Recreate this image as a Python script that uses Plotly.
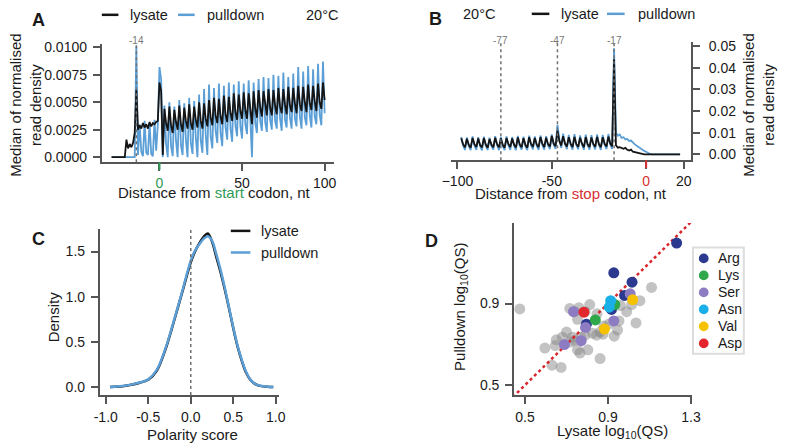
import plotly.graph_objects as go

W, H = 787, 448
FONT = "Liberation Sans, Arial, sans-serif"
BLACK = "#151515"
BLUE = "#5b9fd6"
GREEN = "#2f9a57"
RED = "#d62f35"
AXC = "#555555"

# ---- panel A: read density around the start codon (one value per nt, -29..100)
start_nt = list(range(-29, 101))
start_lysate = [
    0, 0, 0, 0, 0, 0, 0, 0, 0,
    .0016, .0008, .0012, .0009, .0013, .0022,
    .0061, .0025, .0029, .0026, .0031, .0027, .0030, .0026, .0032, .0028, .0031, .0030, .0032, .0033,
    .0068, .0060, .0002,
    .0044, .0031, .0024, .0046, .0029, .0022, .0043, .0032, .0025, .0047, .0030, .0023,
    .0045, .0033, .0026, .0048, .0031, .0025, .0046, .0034, .0027, .0050, .0033, .0026,
    .0049, .0035, .0028, .0052, .0036, .0029, .0054, .0038, .0031, .0053, .0037, .0030,
    .0056, .0039, .0032, .0055, .0040, .0033, .0058, .0041, .0034, .0057, .0042, .0035,
    .0059, .0043, .0035, .0058, .0042, .0030, .0060, .0044, .0036, .0061, .0045, .0037,
    .0060, .0046, .0038, .0062, .0045, .0038, .0061, .0047, .0039, .0063, .0046, .0040,
    .0062, .0048, .0039, .0064, .0047, .0041, .0063, .0049, .0040, .0065, .0048, .0042,
    .0064, .0050, .0041, .0066, .0049, .0043, .0065, .0051, .0042, .0067, .0050, .0044,
    .0068, .0052,
]
start_pulldown = [
    0, 0, 0, 0, 0, 0, 0, 0, 0, 0, 0, 0, 0, 0, 0,
    .0101, .0002, .0030, .0005, .0001, .0033, .0004, .0002, .0031, .0003, .0001, .0034, .0006, .0030,
    .0082, .0071, .0000,
    .0047, .0012, .0000, .0050, .0010, .0001, .0046, .0015, .0000, .0052, .0011, .0002,
    .0049, .0016, .0000, .0054, .0013, .0003, .0051, .0018, .0000, .0057, .0015, .0004,
    .0062, .0020, .0002, .0066, .0019, .0008, .0063, .0024, .0013, .0067, .0022, .0010,
    .0065, .0027, .0016, .0068, .0026, .0014, .0066, .0029, .0019, .0069, .0028, .0017,
    .0067, .0030, .0021, .0070, .0026, .0000, .0068, .0031, .0022, .0071, .0033, .0024,
    .0073, .0032, .0023, .0072, .0034, .0025, .0075, .0033, .0026, .0074, .0035, .0024,
    .0077, .0034, .0027, .0073, .0036, .0026, .0076, .0035, .0028, .0082, .0037, .0026,
    .0078, .0036, .0029, .0083, .0038, .0027, .0080, .0037, .0030, .0085, .0039, .0029,
    .0087, .0040,
]

# ---- panel B: read density around the stop codon (-98..18)
stop_nt = list(range(-98, 19))
stop_lysate = [
    .0074, .0046, .0033, .0072, .0044, .0031, .0076, .0047, .0034, .0073, .0043, .0032,
    .0075, .0046, .0030, .0071, .0045, .0033, .0077, .0047, .0032, .0074, .0044, .0031,
    .0076, .0048, .0034, .0073, .0045, .0032, .0078, .0046, .0033, .0075, .0044, .0031,
    .0079, .0048, .0035, .0076, .0046, .0033, .0080, .0049, .0034, .0077, .0047, .0036,
    .0085, .0050, .0038, .0110, .0062, .0040, .0084, .0050, .0036, .0079, .0048, .0034,
    .0081, .0047, .0035, .0077, .0049, .0033, .0080, .0046, .0034, .0078, .0048, .0035,
    .0081, .0047, .0033, .0079, .0049, .0036, .0082, .0050, .0037,
    .0440,
    .0042, .0031, .0033, .0028, .0026, .0030, .0021, .0018, .0022, .0012, .0010, .0006,
    .0003, .0001, .0000, .0000,
    0, 0, 0, 0, 0, 0, 0, 0, 0, 0, 0, 0, 0, 0, 0, 0, 0, 0, 0,
]
stop_pulldown = [
    .0080, .0040, .0020, .0078, .0038, .0019, .0083, .0041, .0021, .0079, .0037, .0018,
    .0082, .0040, .0020, .0077, .0039, .0022, .0084, .0042, .0019, .0081, .0038, .0020,
    .0083, .0041, .0021, .0080, .0039, .0019, .0085, .0040, .0022, .0082, .0038, .0020,
    .0086, .0042, .0023, .0083, .0040, .0021, .0087, .0043, .0022, .0084, .0041, .0024,
    .0092, .0045, .0025, .0136, .0070, .0030, .0096, .0047, .0024, .0090, .0044, .0022,
    .0093, .0043, .0023, .0088, .0045, .0021, .0091, .0042, .0022, .0089, .0044, .0023,
    .0092, .0043, .0021, .0090, .0045, .0024, .0094, .0046, .0025,
    .0490,
    .0100, .0086, .0092, .0076, .0079, .0069, .0071, .0062, .0064, .0053, .0046, .0040,
    .0033, .0028, .0022, .0016,
    .0012, .0006, .0002, 0, 0, 0, 0, 0, 0, 0, 0, 0, 0, 0, 0, 0, 0, 0, 0,
]
start_marks = [-14]
stop_marks = [-77, -47, -17]

# ---- panel C: polarity score density
polarity = [-0.95, -0.9, -0.8, -0.7, -0.6, -0.5, -0.4, -0.3, -0.2, -0.1, 0.0, 0.05, 0.1,
            0.15, 0.2, 0.25, 0.3, 0.35, 0.4, 0.45, 0.5, 0.55, 0.6, 0.65, 0.7, 0.75, 0.8, 0.9, 0.97]
dens_lysate = [0.0, 0.002, 0.010, 0.025, 0.048, 0.08, 0.18, 0.41, 0.72, 1.05, 1.38, 1.50, 1.59,
               1.66, 1.70, 1.61, 1.44, 1.27, 1.08, 0.87, 0.65, 0.45, 0.29, 0.16, 0.08, 0.038, 0.016, 0.003, 0.0]
dens_pulldown = [0.0, 0.003, 0.012, 0.027, 0.05, 0.085, 0.19, 0.42, 0.73, 1.06, 1.40, 1.51, 1.58,
                 1.64, 1.67, 1.62, 1.47, 1.30, 1.10, 0.88, 0.66, 0.46, 0.30, 0.17, 0.085, 0.04, 0.018, 0.004, 0.0]

# ---- panel D: log10(QS), lysate vs pulldown
other_x = [0.475, 0.716, 0.812, 0.753, 0.847, 0.825, 0.845, 0.862, 0.876, 0.946, 0.953, 1.035, 1.054,
           1.014, 1.110, 0.651, 0.596, 0.646, 0.729, 0.720, 0.740, 0.753, 0.765, 0.803, 0.630, 0.674,
           0.862, 0.700, 0.680, 0.770, 0.790, 0.905, 0.880, 0.960, 0.990, 0.760, 0.740, 0.790, 0.930]
other_y = [0.874, 0.876, 0.895, 0.823, 0.850, 0.755, 0.745, 0.760, 0.750, 0.770, 0.815, 0.805, 0.914,
           0.895, 0.979, 0.722, 0.682, 0.694, 0.735, 0.712, 0.720, 0.673, 0.657, 0.673, 0.598, 0.587,
           0.630, 0.760, 0.735, 0.735, 0.745, 0.800, 0.790, 0.890, 0.860, 0.880, 0.860, 0.860, 0.740]
amino = ["Arg", "Lys", "Ser", "Asn", "Val", "Asp"]
amino_colors = ["#2b3a8f", "#2ea84a", "#8e7cc3", "#1aafe6", "#f6c200", "#e3262b"]
amino_x = [
    [1.231, 0.928, 1.016, 0.980, 0.917, 0.796],
    [0.933, 0.839],
    [1.007, 0.734, 0.928, 0.792, 0.771, 0.690],
    [0.913, 0.906],
    [1.019, 0.883],
    [0.784],
]
amino_y = [
    [1.197, 1.051, 1.005, 0.940, 0.871, 0.799],
    [0.895, 0.820],
    [0.948, 0.860, 0.815, 0.783, 0.718, 0.699],
    [0.914, 0.882],
    [0.919, 0.775],
    [0.858],
]


def px(x):
    return x / W


def py(y):
    return 1 - y / H


fig = go.Figure()

# A
fig.add_trace(go.Scatter(x=start_nt, y=start_pulldown, mode="lines", line=dict(color=BLUE, width=1.8),
                         xaxis="x", yaxis="y", name="pulldown"))
fig.add_trace(go.Scatter(x=start_nt, y=start_lysate, mode="lines", line=dict(color=BLACK, width=1.8),
                         xaxis="x", yaxis="y", name="lysate"))
# B
fig.add_trace(go.Scatter(x=stop_nt, y=stop_pulldown, mode="lines", line=dict(color=BLUE, width=1.8),
                         xaxis="x2", yaxis="y2", name="pulldown"))
fig.add_trace(go.Scatter(x=stop_nt, y=stop_lysate, mode="lines", line=dict(color=BLACK, width=1.8),
                         xaxis="x2", yaxis="y2", name="lysate"))
# C
fig.add_trace(go.Scatter(x=polarity, y=dens_lysate, mode="lines", line=dict(color=BLACK, width=2.5, shape="spline"),
                         xaxis="x3", yaxis="y3", name="lysate"))
fig.add_trace(go.Scatter(x=polarity, y=dens_pulldown, mode="lines", line=dict(color=BLUE, width=2.5, shape="spline"),
                         xaxis="x3", yaxis="y3", name="pulldown"))
# D
fig.add_trace(go.Scatter(x=other_x, y=other_y, mode="markers",
                         marker=dict(color="rgba(135,135,135,0.5)", size=11, line=dict(width=0)),
                         xaxis="x4", yaxis="y4", name="other"))
fig.add_trace(go.Scatter(x=[0.40, 1.30], y=[0.40, 1.30], mode="lines",
                         line=dict(color="#d8262c", width=2.5, dash="dot"),
                         xaxis="x4", yaxis="y4", name="y=x"))
for name, col, xs, ys in zip(amino, amino_colors, amino_x, amino_y):
    fig.add_trace(go.Scatter(x=xs, y=ys, mode="markers", marker=dict(color=col, size=11, line=dict(width=0)),
                             xaxis="x4", yaxis="y4", name=name))

AX = dict(showline=True, linecolor=AXC, linewidth=2, ticks="outside", ticklen=7, tickwidth=2,
          tickcolor=AXC, showgrid=False, zeroline=False, tickfont=dict(size=14, color="#1a1a1a"))
YS = dict(ticklabelstandoff=3)

fig.update_layout(
    width=W, height=H, margin=dict(l=0, r=0, t=0, b=0),
    plot_bgcolor="white", paper_bgcolor="white", showlegend=False,
    font=dict(family=FONT, size=14, color="#1a1a1a"),
    xaxis=dict(AX, domain=[px(95), px(333)], range=[-34.9, 105.9], anchor="y",
               tickvals=[0, 50, 100],
               ticktext=['<span style="color:%s">0</span>' % GREEN, "50", "100"]),
    yaxis=dict(AX, **YS, domain=[py(160), py(40)], range=[-0.00045, 0.01027], anchor="x",
               tickvals=[0, 0.0025, 0.005, 0.0075, 0.01], tickformat=".4f"),
    xaxis2=dict(AX, domain=[px(452), px(698)], range=[-103.6, 23.8], anchor="y2",
                tickvals=[-100, -50, 0, 20],
                ticktext=["\u2212100", "-50", '<span style="color:%s">0</span>' % RED, "20"]),
    yaxis2=dict(AX, ticklabelstandoff=6, domain=[py(158), py(38)], range=[-0.0027, 0.0518], anchor="x2",
                side="right", tickvals=[0, 0.01, 0.02, 0.03, 0.04, 0.05], tickformat=".2f"),
    xaxis3=dict(AX, ticklabelstandoff=1, domain=[px(93), px(276)], range=[-1.069, 1.034], anchor="y3",
                tickvals=[-1, -0.5, 0, 0.5, 1], ticktext=["-1.0", "-0.5", "0.0", "0.5", "1.0"]),
    yaxis3=dict(AX, **YS, domain=[py(397), py(228)], range=[-0.087, 1.75], anchor="x3",
                tickvals=[0, 0.5, 1, 1.5], tickformat=".1f"),
    xaxis4=dict(AX, ticklabelstandoff=1, domain=[px(517), px(699)], range=[0.448, 1.305], anchor="y4",
                tickvals=[0.5, 0.9, 1.3], tickformat=".1f"),
    yaxis4=dict(AX, **YS, domain=[py(397), py(222)], range=[0.452, 1.295], anchor="x4",
                tickvals=[0.5, 0.9, 1.3], tickformat=".1f"),
)

shapes = []
ann = []


def text(x, y, s, size=14, anchor="center", color="#1a1a1a", angle=0, bold=False):
    if bold:
        s = "<b>%s</b>" % s
    ann.append(dict(x=px(x), y=py(y), xref="paper", yref="paper", text=s, showarrow=False,
                    xanchor=anchor, yanchor="middle", textangle=angle,
                    font=dict(family=FONT, size=size, color=color)))


def legline(x0, x1, y, color, width=2.5):
    shapes.append(dict(type="line", xref="paper", yref="paper", x0=px(x0), x1=px(x1), y0=py(y), y1=py(y),
                       line=dict(color=color, width=width)))


# dotted position markers
for nt in start_marks:
    shapes.append(dict(type="line", xref="x", yref="paper", x0=nt, x1=nt, y0=py(160), y1=py(38),
                       line=dict(color="#707070", width=1.5, dash="dot"), layer="above"))
    ann.append(dict(x=nt, y=py(28), xref="x", yref="paper", text=str(nt), showarrow=False,
                    font=dict(family=FONT, size=10, color="#777")))
for nt in stop_marks:
    shapes.append(dict(type="line", xref="x2", yref="paper", x0=nt, x1=nt, y0=py(158), y1=py(37),
                       line=dict(color="#707070", width=1.5, dash="dot"), layer="above"))
    ann.append(dict(x=nt, y=py(28), xref="x2", yref="paper", text=str(nt), showarrow=False,
                    font=dict(family=FONT, size=10, color="#777")))
shapes.append(dict(type="line", xref="x3", yref="paper", x0=0, x1=0, y0=py(397), y1=py(228),
                   line=dict(color="#707070", width=1.5, dash="dot"), layer="above"))

# coloured 0 ticks
shapes.append(dict(type="line", xref="x", yref="paper", x0=0, x1=0, y0=py(160), y1=py(168),
                   line=dict(color=GREEN, width=2)))
shapes.append(dict(type="line", xref="x2", yref="paper", x0=0, x1=0, y0=py(158), y1=py(166),
                   line=dict(color=RED, width=2)))

# panel letters
text(30, 15, "A", 18, bold=True)
text(436, 14, "B", 18, bold=True)
text(30, 238, "C", 18, bold=True)
text(432, 240, "D", 18, bold=True)

# legends A / B
legline(95, 112, 10, BLACK)
text(122, 10, "lysate", 14.5, anchor="left")
legline(173, 190, 10, BLUE)
text(201, 10, "pulldown", 14.5, anchor="left")
text(302, 10, "20°C", 14.5, anchor="left")
text(463, 9, "20°C", 14.5, anchor="left")
legline(535, 553, 9, BLACK)
text(563, 9, "lysate", 14.5, anchor="left")
legline(612, 630, 9, BLUE)
text(642, 9, "pulldown", 14.5, anchor="left")

# legend C
legline(227, 247, 230, BLACK)
text(256, 230, "lysate", 14.5, anchor="left")
legline(227, 247, 252, BLUE)
text(256, 252, "pulldown", 14.5, anchor="left")

# legend D
shapes.append(dict(type="rect", xref="paper", yref="paper", x0=px(700), x1=px(752), y0=py(355), y1=py(247),
                   line=dict(color="#dddddd", width=2), fillcolor="white", layer="above"))
for i, (name, col) in enumerate(zip(amino, amino_colors)):
    yy = 258 + i * 17.3
    shapes.append(dict(type="circle", xref="paper", yref="paper", x0=px(706), x1=px(716),
                       y0=py(yy + 5), y1=py(yy - 5), fillcolor=col, line=dict(width=0), layer="above"))
    text(724, yy, name, anchor="left")

# axis titles
text(210, 191, 'Distance from <span style="color:%s">start</span> codon, nt' % GREEN, 15)
text(575, 192, 'Distance from <span style="color:%s">stop</span> codon, nt' % RED, 15)
text(17, 102, "Median of normalised<br>read density", 15, angle=-90)
text(767, 102, "Median of normalised<br>read density", 15, angle=-90)
text(188, 437, "Polarity score", 15)
text(45, 317, "Density", 15, angle=-90)
text(618, 434, "Lysate log<sub>10</sub>(QS)", 15)
text(462, 307, "Pulldown log<sub>10</sub>(QS)", 15, angle=-90)

fig.update_layout(shapes=shapes, annotations=ann)
fig.write_html("out.html", config={"displayModeBar": False},
               post_script="document.body.style.margin='0';")
